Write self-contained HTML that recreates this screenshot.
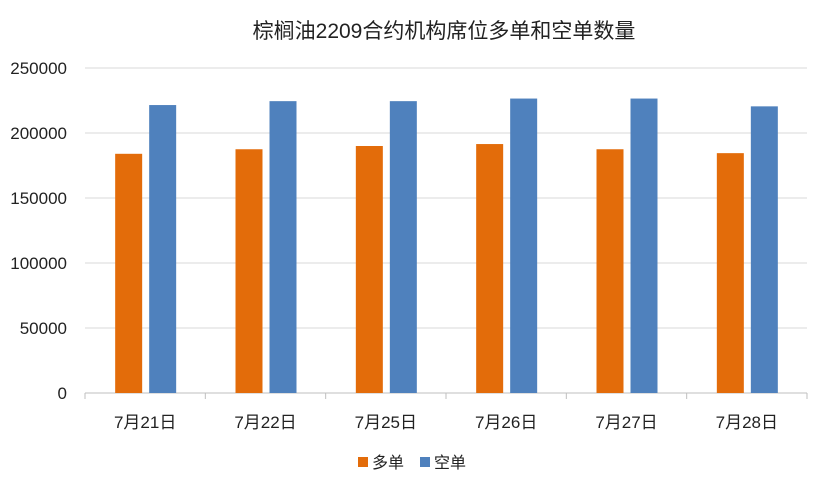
<!DOCTYPE html>
<html><head><meta charset="utf-8">
<style>
body{margin:0;background:#fff;}
svg text{font-family:"Liberation Sans","Noto Sans CJK SC",sans-serif;}
</style></head>
<body>
<svg id="chart" width="824" height="487" xmlns="http://www.w3.org/2000/svg">
<rect width="824" height="487" fill="#fff"/>
<text x="444" y="38" font-size="21" text-anchor="middle" fill="#222">棕榈油2209合约机构席位多单和空单数量</text>
<g id="grid"></g><g id="bars"></g><g id="axis"></g>
<g>
<rect x="358" y="457" width="10" height="10" fill="#E36C0A"/>
<text x="372" y="468" font-size="16" fill="#222">多单</text>
<rect x="420" y="457" width="10" height="10" fill="#4F81BD"/>
<text x="434" y="468" font-size="16" fill="#222">空单</text>
</g>
</svg>
<script>
const categories=["7月21日","7月22日","7月25日","7月26日","7月27日","7月28日"];
const longValues=[184000,187500,190000,191500,187500,184500];
const shortValues=[221500,224500,224500,226500,226500,220500];
const yTicks=[0,50000,100000,150000,200000,250000];
const NS="http://www.w3.org/2000/svg";
const x0=85,x1=807,yBase=393,yTop=68,yMax=250000;
const y=v=>yBase-(v/yMax)*(yBase-yTop);
const band=(x1-x0)/categories.length;
const xc=i=>x0+band*(i+0.5);
function mk(tag,attrs,parent,txt){const e=document.createElementNS(NS,tag);for(const k in attrs)e.setAttribute(k,attrs[k]);if(txt!==undefined)e.textContent=txt;document.getElementById(parent).appendChild(e);return e;}
yTicks.forEach((t,i)=>{
  const l=mk('line',{x1:x0,x2:x1,y1:y(t),y2:y(t),stroke:t===0?'#bfbfbf':'#d9d9d9','stroke-width':1},'grid');
  
  
  const tx=mk('text',{x:67,y:y(t)+6,'font-size':17,'text-anchor':'end',fill:'#222'},'axis',String(t));
  
  
});
categories.forEach((c,i)=>{
  const b1=mk('rect',{x:xc(i)-30,y:y(longValues[i]),width:27,height:yBase-y(longValues[i]),fill:'#E36C0A'},'bars');
  
  
  const b2=mk('rect',{x:xc(i)+4,y:y(shortValues[i]),width:27,height:yBase-y(shortValues[i]),fill:'#4F81BD'},'bars');
  
  
  const tk=mk('line',{x1:x0+band*i,x2:x0+band*i,y1:yBase,y2:yBase+6,stroke:'#bfbfbf'},'axis');
  
  
  const tx=mk('text',{x:xc(i),y:428,'font-size':17,'text-anchor':'middle',fill:'#222'},'axis',c);
  
  
});
const last=mk('line',{x1:x1,x2:x1,y1:yBase,y2:yBase+6,stroke:'#bfbfbf'},'axis');


</script>
</body></html>
